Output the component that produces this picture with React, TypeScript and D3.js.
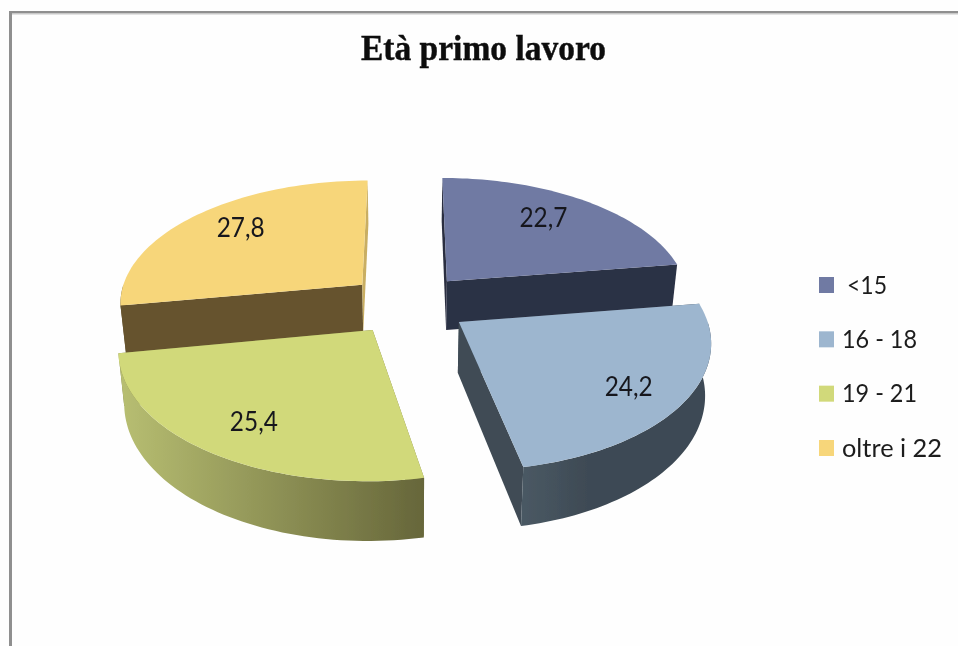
import React from "react";
import * as d3 from "d3";

const title = "Età primo lavoro";
const categories = ["<15", "16 - 18", "19 - 21", "oltre i 22"];
const values = [22.7, 24.2, 25.4, 27.8];
const valueLabels = ["22,7", "24,2", "25,4", "27,8"];
const topColors = ["#6f7aa3", "#9db6cf", "#d1d97a", "#f7d67a"];
const startWallColors = ["#2a2e40", "#3f4b55", "#7a7a45", "#66532e"];
const endWallColors = ["#2c3044", "#3f4b55", "#7a7a45", "#c9ae62"];
const sideStops = [
  ["#2c3044", "#2c3044"],
  ["#4a5964", "#3e4a54"],
  ["#b8bf72", "#66663a"],
  ["#66532e", "#66532e"],
];
const drawOrder = [0, 3, 1, 2];
const labelAngleShift = [-3.5, 1.5, -1.0, 3.4];
const labelRadius = [0.742, 0.78, 0.762, 0.768];
const legendTextX = [847, 842, 842, 842];
const legendTextWidth = [40, 75, 75, 100];

const W = 958;
const H = 646;
const EXPLODE = 0.25;
const PERSPECTIVE = 0.135;
const DEPTH = 50;
const BOTTOM_SHRINK = 0.98;

const sx = d3.scaleLinear().domain([-1, 1]).range([408 - 244, 408 + 244]);
const sy = d3.scaleLinear().domain([-1, 1]).range([304 - 123, 304 + 123]);

type P = [number, number];

function project(X: number, Y: number, bottom = false): P {
  const s = 1 / (1 - PERSPECTIVE * Y);
  const x0 = sx(X * s);
  const y0 = sy(Y * s);
  if (!bottom) return [x0, y0];
  return [sx(0) + (x0 - sx(0)) * BOTTOM_SHRINK, y0 + DEPTH * s];
}

const pieGen = d3.pie<number>().sort(null).value((d) => d);
const arcs = pieGen(values);
const poly = d3.line<P>();

const slices = arcs.map((arc, i) => {
  const mid = (arc.startAngle + arc.endAngle) / 2;
  const ox = EXPLODE * Math.sin(mid);
  const oy = -EXPLODE * Math.cos(mid);
  const at = (a: number, r: number, bottom = false) =>
    project(ox + r * Math.sin(a), oy - r * Math.cos(a), bottom);
  const sweep = (a0: number, a1: number, bottom = false) =>
    d3.range(0, 61).map((k) => at(a0 + ((a1 - a0) * k) / 60, 1, bottom));

  const top = [at(0, 0), ...sweep(arc.startAngle, arc.endAngle)];
  const wall = (a: number) => [at(0, 0), at(a, 1), at(a, 1, true), at(0, 0, true)];

  const a0 = Math.max(arc.startAngle, Math.PI / 2);
  const a1 = Math.min(arc.endAngle, (3 * Math.PI) / 2);
  const outer =
    a1 > a0 ? [...sweep(a0, a1), ...sweep(a0, a1, true).reverse()] : null;
  const xs = outer ? (d3.extent(outer, (p) => p[0]) as [number, number]) : [0, 0];

  return {
    i,
    top: poly(top) + "Z",
    startWall: poly(wall(arc.startAngle)) + "Z",
    endWall: poly(wall(arc.endAngle)) + "Z",
    outer: outer ? poly(outer) + "Z" : null,
    gradX: xs,
    label: at(mid + (labelAngleShift[i] * Math.PI) / 180, labelRadius[i]),
  };
});

const legendY = d3.scalePoint<string>().domain(categories).range([285, 448]);

export default function App() {
  return (
    <svg
      width={W}
      height={H}
      viewBox={`0 0 ${W} ${H}`}
      style={{ position: "fixed", left: 0, top: 0, background: "#fefefe" }}
    >
      <defs>
        <filter id="soft" x="-5%" y="-5%" width="110%" height="110%">
          <feGaussianBlur stdDeviation="0.55" />
        </filter>
        {slices.map((s) => (
          <linearGradient
            key={s.i}
            id={`side${s.i}`}
            gradientUnits="userSpaceOnUse"
            x1={s.i === 1 ? 522 : s.gradX[0]}
            x2={s.gradX[1]}
            y1={0}
            y2={0}
          >
            <stop offset="0" stopColor={sideStops[s.i][0]} />
            <stop offset={s.i === 1 ? "0.35" : "1"} stopColor={sideStops[s.i][1]} />
          </linearGradient>
        ))}
      </defs>

      <rect x={9} y={11} width={W - 9} height={2.5} fill="#8f8f8f" />
      <rect x={9} y={13} width={W - 9} height={1.5} fill="#c8c8c8" />
      <rect x={9} y={11} width={3} height={H - 11} fill="#8f8f8f" />

      <g filter="url(#soft)">
        {drawOrder.map((idx) => {
          const s = slices[idx];
          return (
            <g key={idx}>
              <path d={s.startWall} fill={startWallColors[idx]} />
              <path d={s.endWall} fill={endWallColors[idx]} />
              {s.outer && <path d={s.outer} fill={`url(#side${idx})`} />}
              <path d={s.top} fill={topColors[idx]} />
            </g>
          );
        })}
      </g>

      <g filter="url(#soft)">
        <text
          x={361}
          y={60}
          fontFamily="'Liberation Serif', serif"
          fontWeight={700}
          fontSize={36}
          textLength={245}
          lengthAdjust="spacingAndGlyphs"
          fill="#0b0b0b"
          stroke="#0b0b0b"
          strokeWidth={0.4}
        >
          {title}
        </text>

        {slices.map((s) => (
          <text
            key={s.i}
            x={s.label[0] - 24}
            y={s.label[1] + 10}
            fontFamily="Lato, sans-serif"
            fontSize={27}
            textLength={48}
            lengthAdjust="spacingAndGlyphs"
            fill="#15171c"
          >
            {valueLabels[s.i]}
          </text>
        ))}

        {categories.map((c, i) => (
          <g key={c}>
            <rect x={819} y={(legendY(c) as number) - 8} width={15} height={16} fill={topColors[i]} />
            <text
              x={legendTextX[i]}
              y={(legendY(c) as number) + 8.5}
              fontFamily="Lato, sans-serif"
              fontSize={25}
              textLength={legendTextWidth[i]}
              lengthAdjust="spacingAndGlyphs"
              fill="#1c1c1c"
            >
              {c}
            </text>
          </g>
        ))}
      </g>
    </svg>
  );
}
